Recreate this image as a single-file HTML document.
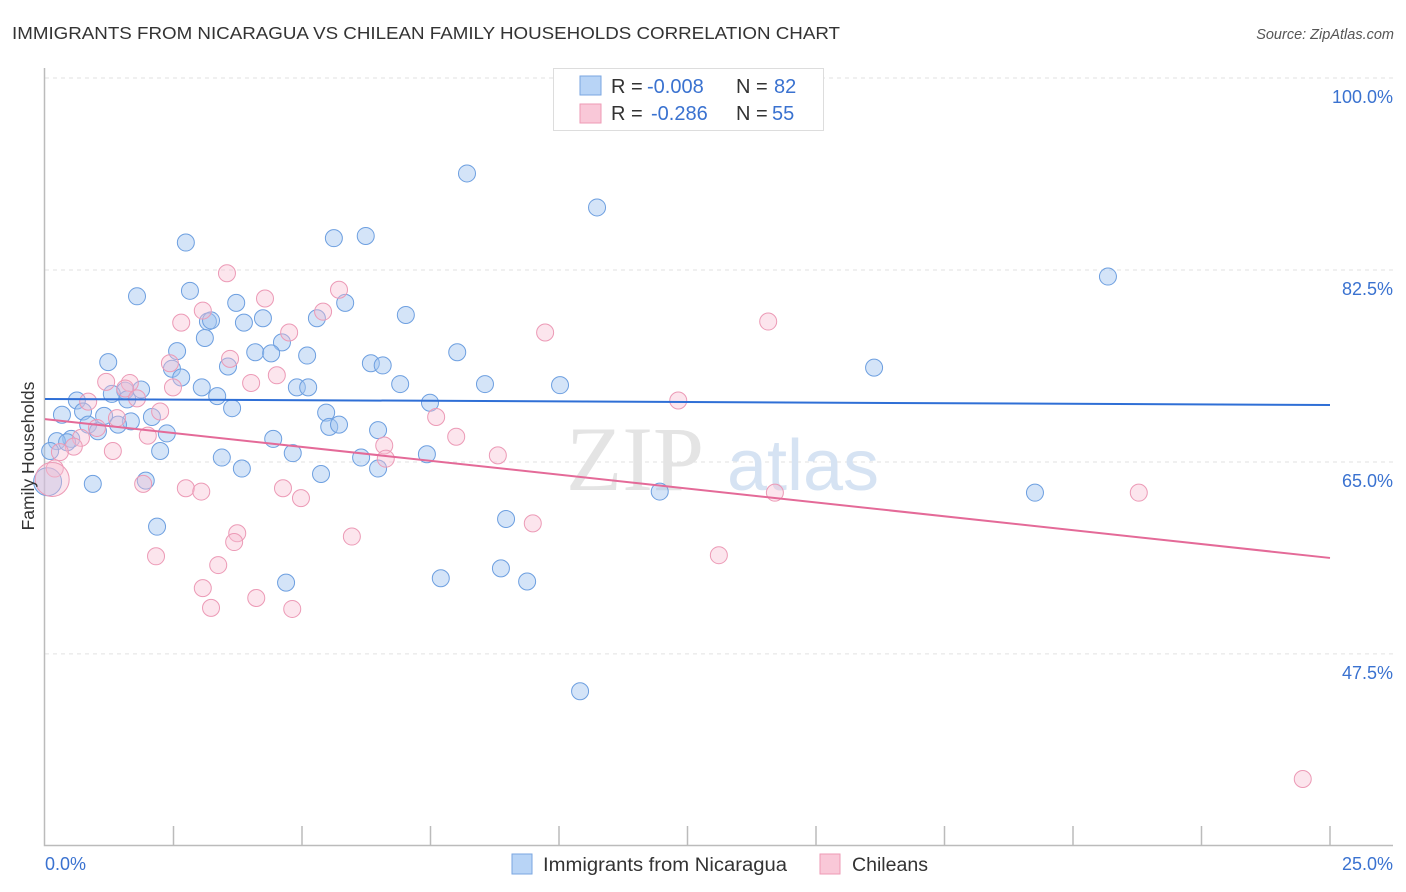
<!DOCTYPE html>
<html><head><meta charset="utf-8"><style>
body{margin:0;background:#fff;font-family:"Liberation Sans",sans-serif;}
svg{display:block}
</style></head><body>
<svg id="chart" width="1406" height="892" xmlns="http://www.w3.org/2000/svg">
<text x="12" y="39" font-size="17.5" fill="#333" textLength="828" lengthAdjust="spacingAndGlyphs">IMMIGRANTS FROM NICARAGUA VS CHILEAN FAMILY HOUSEHOLDS CORRELATION CHART</text>
<text x="1394" y="39" font-size="14.5" fill="#555" font-style="italic" text-anchor="end">Source: ZipAtlas.com</text>
<g id="grid"></g>
<text x="635" y="490" font-size="92" fill="#e4e4e4" font-family="Liberation Serif,serif" text-anchor="middle">ZIP</text>
<text x="803" y="490" font-size="72" fill="#d6e3f3" text-anchor="middle">atlas</text>
<g id="pts"></g>
<g id="lines"></g>
<text transform="translate(34,456) rotate(-90)" font-size="17.5" fill="#333" text-anchor="middle">Family Households</text>
<g>
<rect x="553.5" y="68.5" width="270" height="62" fill="#fff" stroke="#ddd"/>
<rect x="580" y="76" width="21" height="19" fill="#b8d4f6" stroke="#7aa6e0"/>
<rect x="580" y="104" width="21" height="19" fill="#f9c8d8" stroke="#ee9ab5"/>
<text y="93" font-size="20" fill="#333"><tspan x="611">R = </tspan><tspan x="647" fill="#3a72d0">-0.008</tspan><tspan x="736">N = </tspan><tspan x="774" fill="#3a72d0">82</tspan></text>
<text y="120" font-size="20" fill="#333"><tspan x="611">R = </tspan><tspan x="651" fill="#3a72d0">-0.286</tspan><tspan x="736">N = </tspan><tspan x="772" fill="#3a72d0">55</tspan></text>
</g>
<g>
<rect x="512" y="854" width="20" height="20" fill="#b8d4f6" stroke="#7aa6e0"/>
<text x="543" y="871" font-size="19" fill="#333" textLength="244" lengthAdjust="spacingAndGlyphs">Immigrants from Nicaragua</text>
<rect x="820" y="854" width="20" height="20" fill="#f9c8d8" stroke="#ee9ab5"/>
<text x="852" y="871" font-size="19" fill="#333" textLength="76" lengthAdjust="spacingAndGlyphs">Chileans</text>
</g>
</svg>
<script>
const yTicks=[100,82.5,65,47.5];
const yTickLabels=["100.0%","82.5%","65.0%","47.5%"];
const xTickLabels=["0.0%","25.0%"];
const blueX=[8.21,10.74,2.74,5.62,6.24,20.68,1.79,2.82,3.72,5.84,4.24,5.29,7.02,3.17,3.23,3.87,3.11,4.61,2.57,4.09,4.40,5.10,8.02,1.23,2.47,3.56,6.34,6.57,16.13,2.65,6.91,8.56,10.02,4.90,5.12,3.05,1.56,1.87,1.30,3.35,0.62,1.60,7.49,3.64,0.33,0.74,1.15,2.08,1.67,5.47,1.42,0.84,5.53,5.72,1.03,2.37,6.48,0.51,0.23,4.44,0.43,2.24,4.82,7.43,3.44,6.15,3.83,6.48,5.37,1.96,0.93,11.96,19.26,2.18,8.97,8.87,7.70,9.38,4.69,10.41,0.1,0.05];
const blueY=[91.3,88.2,85.0,85.4,85.6,81.9,80.1,80.6,79.5,79.5,78.1,78.1,78.4,77.8,77.9,77.7,76.3,75.9,75.1,75.0,74.9,74.7,75.0,74.1,73.5,73.7,74.0,73.8,73.6,72.7,72.1,72.1,72.0,71.8,71.8,71.8,71.5,71.6,71.2,71.0,70.6,70.7,70.4,69.9,69.3,69.6,69.2,69.1,68.7,69.5,68.4,68.4,68.2,68.4,67.8,67.6,67.9,67.1,66.9,67.1,66.8,66.0,65.8,65.7,65.4,65.4,64.4,64.4,63.9,63.3,63.0,62.3,62.2,59.1,59.8,55.3,54.4,54.1,54.0,44.1,66.0,63.2];
const blueR=[8.5,8.5,8.5,8.5,8.5,8.5,8.5,8.5,8.5,8.5,8.5,8.5,8.5,8.5,8.5,8.5,8.5,8.5,8.5,8.5,8.5,8.5,8.5,8.5,8.5,8.5,8.5,8.5,8.5,8.5,8.5,8.5,8.5,8.5,8.5,8.5,8.5,8.5,8.5,8.5,8.5,8.5,8.5,8.5,8.5,8.5,8.5,8.5,8.5,8.5,8.5,8.5,8.5,8.5,8.5,8.5,8.5,8.5,8.5,8.5,8.5,8.5,8.5,8.5,8.5,8.5,8.5,8.5,8.5,8.5,8.5,8.5,8.5,8.5,8.5,8.5,8.5,8.5,8.5,8.5,8.5,14];
const pinkX=[3.54,5.72,4.28,3.07,5.41,2.65,14.07,4.75,9.73,3.60,2.43,4.51,1.19,1.65,4.01,2.49,1.56,1.79,0.84,12.32,2.24,7.61,1.40,1.01,2.00,0.70,8.00,6.60,0.56,1.32,8.81,6.63,0.29,0.19,0.14,1.91,2.74,3.04,4.63,4.98,14.20,21.28,9.49,5.97,3.74,3.68,2.16,13.11,3.37,3.07,4.11,3.23,4.81,24.47];
const pinkY=[82.2,80.7,79.9,78.8,78.7,77.7,77.8,76.8,76.8,74.4,74.0,72.9,72.3,72.2,72.2,71.8,71.7,70.8,70.5,70.6,69.6,69.1,69.0,68.1,67.4,67.2,67.3,66.5,66.4,66.0,65.6,65.3,65.9,64.4,63.4,63.0,62.6,62.3,62.6,61.7,62.2,62.2,59.4,58.2,58.5,57.7,56.4,56.5,55.6,53.5,52.6,51.7,51.6,36.1];
const pinkR=[8.5,8.5,8.5,8.5,8.5,8.5,8.5,8.5,8.5,8.5,8.5,8.5,8.5,8.5,8.5,8.5,8.5,8.5,8.5,8.5,8.5,8.5,8.5,8.5,8.5,8.5,8.5,8.5,8.5,8.5,8.5,8.5,8.5,8.5,17,8.5,8.5,8.5,8.5,8.5,8.5,8.5,8.5,8.5,8.5,8.5,8.5,8.5,8.5,8.5,8.5,8.5,8.5,8.5];
const trendIntercept=[70.74,68.9];
const trendEnd=[70.19,56.25];
const X0=45,X1=1330,Y100=78,PPU=10.97;
const sx=v=>X0+(v/25)*(X1-X0);
const sy=v=>Y100+(100-v)*PPU;
const NS="http://www.w3.org/2000/svg";
function mk(t,a,p){const e=document.createElementNS(NS,t);for(const k in a)e.setAttribute(k,a[k]);p.appendChild(e);return e;}
const grid=document.getElementById('grid');
yTicks.forEach((t,i)=>{
 const l=mk('line',{x1:45,x2:1393,y1:sy(t),y2:sy(t),stroke:'#e2e2e2','stroke-dasharray':'4,4'},grid);
 
 
 const tx=mk('text',{x:1393,y:sy(t)+25,'font-size':18,fill:'#3a72d0','text-anchor':'end'},grid);
 tx.textContent=yTickLabels[i];
 
 
});
const ax=mk('path',{d:`M44.5 68 V845.5 H1393`,stroke:'#bbb',fill:'none','stroke-width':1.5},grid);


for(let i=1;i<=10;i++){
 const x=sx(i*2.5);
 const t=mk('line',{x1:x,x2:x,y1:826,y2:845,stroke:'#bbb','stroke-width':1.5},grid);
 
 
}
[[0,'start',45],[25,'end',1393]].forEach((d,i)=>{
 const t=mk('text',{x:d[2],y:870,'font-size':18,fill:'#3a72d0','text-anchor':d[1]},grid);
 t.textContent=xTickLabels[i];
 
 
});
const pts=document.getElementById('pts');
blueX.forEach((v,i)=>{
 const c=mk('circle',{cx:sx(v),cy:sy(blueY[i]),r:blueR[i],fill:'rgba(160,196,240,0.45)',stroke:'#6d9fe0','stroke-width':1},pts);
 
 
});
pinkX.forEach((v,i)=>{
 const c=mk('circle',{cx:sx(v),cy:sy(pinkY[i]),r:pinkR[i],fill:'rgba(248,190,210,0.4)',stroke:'#ec9ab6','stroke-width':1},pts);
 
 
});
const lines=document.getElementById('lines');
const cols=['#2f6fd6','#e46a98'];
trendIntercept.forEach((b,i)=>{
 const l=mk('line',{x1:sx(0),y1:sy(b),x2:sx(25),y2:sy(trendEnd[i]),stroke:cols[i],'stroke-width':2},lines);
 
 
});
</script>
</body></html>
